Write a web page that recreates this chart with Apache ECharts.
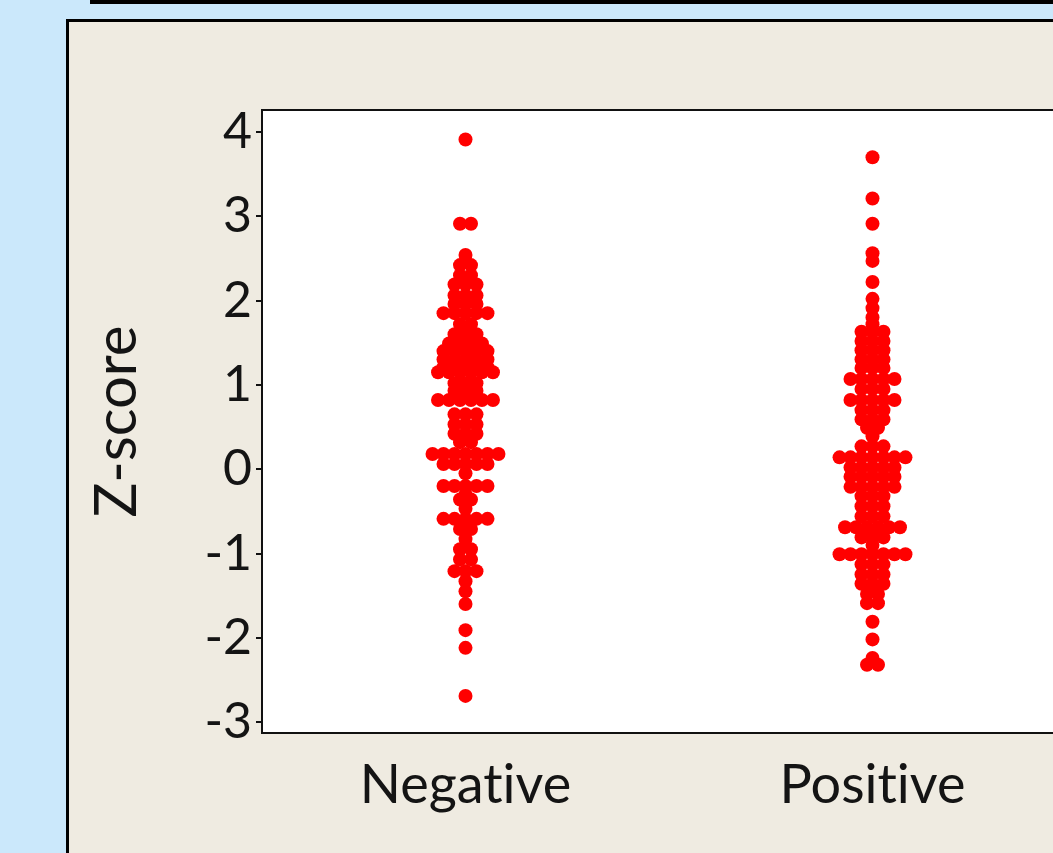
<!DOCTYPE html>
<html>
<head>
<meta charset="utf-8">
<script src="https://cdn.jsdelivr.net/npm/echarts@6/dist/echarts.min.js"></script>
<style>
html, body { margin: 0; padding: 0; background: #cbe8fb; overflow: hidden; }
.bar { position: absolute; left: 90px; top: 0; width: 1000px; height: 4px; background: #000; }
.panel { position: absolute; left: 66px; top: 19px; width: 1100px; height: 900px; background: #efebe1; border: 3px solid #000; box-sizing: border-box; }
#chart { position: absolute; left: 0; top: 0; width: 1053px; height: 853px; }
</style>
</head>
<body>
<div class="bar"></div>
<div class="panel"></div>
<div id="chart"></div>
<script>
var categories = ['Negative', 'Positive'];
var yTicks = [-3, -2, -1, 0, 1, 2, 3, 4];

// z-scores; equal values are drawn side by side
var negativeValues = [
	3.91,
	2.91, 2.91,
	2.54,
	2.42, 2.42,
	2.30, 2.30,
	2.19, 2.19, 2.19,
	2.06, 2.06, 2.06,
	1.96, 1.96, 1.96,
	1.85, 1.85, 1.85, 1.85, 1.85,
	1.72, 1.72,
	1.60, 1.60, 1.60,
	1.49, 1.49, 1.49, 1.49,
	1.40, 1.40, 1.40, 1.40, 1.40,
	1.30, 1.30, 1.30, 1.30, 1.30,
	1.21, 1.21, 1.21, 1.21, 1.21,
	1.15, 1.15, 1.15, 1.15, 1.15, 1.15,
	1.02, 1.02, 1.02,
	0.93, 0.93, 0.93,
	0.82, 0.82, 0.82, 0.82, 0.82, 0.82,
	0.65, 0.65, 0.65,
	0.53, 0.53, 0.53,
	0.42, 0.42, 0.42,
	0.32, 0.32,
	0.18, 0.18, 0.18, 0.18, 0.18, 0.18, 0.18,
	0.06, 0.06, 0.06, 0.06, 0.06,
	-0.05,
	-0.20, -0.20, -0.20, -0.20, -0.20,
	-0.30,
	-0.36, -0.36,
	-0.47,
	-0.59, -0.59, -0.59, -0.59, -0.59,
	-0.71, -0.71,
	-0.83,
	-0.95, -0.95,
	-1.07, -1.07,
	-1.21, -1.21, -1.21,
	-1.33,
	-1.45,
	-1.60,
	-1.91,
	-2.12,
	-2.69
];

var positiveValues = [
	3.70,
	3.21,
	2.91,
	2.56,
	2.47,
	2.22,
	2.02,
	1.91,
	1.80,
	1.72,
	1.63, 1.63, 1.63,
	1.52, 1.52, 1.52,
	1.41, 1.41, 1.41,
	1.30, 1.30, 1.30,
	1.20, 1.20, 1.20,
	1.07, 1.07, 1.07, 1.07, 1.07,
	0.95, 0.95, 0.95,
	0.82, 0.82, 0.82, 0.82, 0.82,
	0.70, 0.70, 0.70,
	0.59, 0.59, 0.59,
	0.49, 0.49,
	0.39,
	0.27, 0.27, 0.27,
	0.14, 0.14, 0.14, 0.14, 0.14, 0.14, 0.14,
	0.02, 0.02, 0.02, 0.02, 0.02,
	-0.09, -0.09, -0.09, -0.09, -0.09,
	-0.21, -0.21, -0.21, -0.21, -0.21,
	-0.32, -0.32, -0.32,
	-0.44, -0.44, -0.44,
	-0.56, -0.56, -0.56,
	-0.69, -0.69, -0.69, -0.69, -0.69, -0.69,
	-0.81, -0.81, -0.81,
	-0.90,
	-1.01, -1.01, -1.01, -1.01, -1.01, -1.01, -1.01,
	-1.13, -1.13, -1.13,
	-1.25, -1.25, -1.25,
	-1.36, -1.36, -1.36,
	-1.48, -1.48,
	-1.59, -1.59,
	-1.81,
	-2.02,
	-2.24,
	-2.32, -2.32
];

var step = 0.027; // horizontal gap between dots that share a value

// put dots with the same value next to each other, centred on the category
function spread(values, index) {
	var counts = {};
	values.forEach(function (v) { counts[v] = (counts[v] || 0) + 1; });
	var seen = {};
	return values.map(function (v) {
		var k = seen[v] || 0;
		seen[v] = k + 1;
		return [index + (k - (counts[v] - 1) / 2) * step, v];
	});
}

var chartDom = document.getElementById('chart');
var myChart = echarts.init(chartDom, null, { devicePixelRatio: 1 });
var textColor = '#141414';
var font = 'Lato';

var option = {
	animation: false,
	grid: {
		left: 262,
		top: 110,
		width: 814,
		height: 623,
		outerBoundsMode: 'none',
		containLabel: false,
		show: true,
		backgroundColor: '#fff',
		borderColor: '#111',
		borderWidth: 2
	},
	xAxis: [
		{
			type: 'category',
			data: categories,
			boundaryGap: true,
			axisLine: { onZero: false, lineStyle: { color: '#111', width: 2 } },
			axisTick: { alignWithLabel: true, length: 8, lineStyle: { color: '#111', width: 2 } },
			axisLabel: {
				color: textColor,
				fontFamily: font,
				fontSize: 54,
				margin: 26,
				// keep "ti" as two letters instead of a ligature
				formatter: function (v) { return v.replace('ti', 't\u200Ci'); }
			},
			splitLine: { show: false }
		},
		{
			type: 'value',
			min: -0.5,
			max: 1.5,
			show: false,
			axisLine: { onZero: false }
		}
	],
	yAxis: {
		type: 'value',
		min: -3.13,
		max: 4.26,
		name: 'Z-score',
		nameLocation: 'middle',
		nameRotate: 90,
		nameGap: 116,
		nameTextStyle: { color: textColor, fontFamily: font, fontSize: 58 },
		axisLine: { show: true, onZero: false, lineStyle: { color: '#111', width: 2 } },
		axisTick: { show: true, length: 6, customValues: yTicks, lineStyle: { color: '#111', width: 2 } },
		axisLabel: { color: textColor, fontFamily: font, fontSize: 50, margin: 10, customValues: yTicks },
		splitLine: { show: false }
	},
	series: [
		{
			name: categories[0],
			type: 'scatter',
			xAxisIndex: 1,
			symbol: 'circle',
			symbolSize: 14,
			itemStyle: { color: '#ff0000', opacity: 1 },
			data: spread(negativeValues, 0)
		},
		{
			name: categories[1],
			type: 'scatter',
			xAxisIndex: 1,
			symbol: 'circle',
			symbolSize: 14,
			itemStyle: { color: '#ff0000', opacity: 1 },
			data: spread(positiveValues, 1)
		}
	]
};

option && myChart.setOption(option);
</script>
</body>
</html>
